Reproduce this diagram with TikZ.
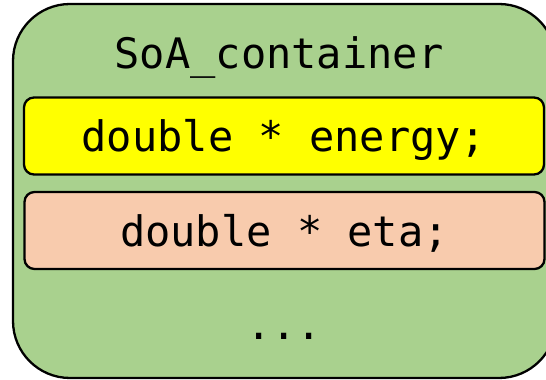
\documentclass[tikz,border=0pt]{standalone}
\usepackage{fontspec}
\setmonofont{DejaVu Sans Mono}
\definecolor{contgreen}{HTML}{A9D18E}
\definecolor{fieldyellow}{HTML}{FFFF00}
\definecolor{fieldorange}{HTML}{F8CBAD}
\tikzset{
  container/.style={draw=black, line width=2.3pt, fill=contgreen, rounded corners=57pt, inner sep=0pt},
  field/.style={draw=black, line width=2.3pt, rounded corners=10pt, inner sep=0pt,
    minimum width=520pt, minimum height=77pt, text height=40pt, text depth=8pt},
  codetext/.style={font=\ttfamily\fontsize{42}{50}\selectfont, text=black}
}
\begin{document}
\begin{tikzpicture}[x=1pt,y=1pt]
\useasboundingbox (0,0) rectangle (546,380);
\node[container, minimum width=543pt, minimum height=374pt] (cont) at (284.5,189) {};
\node[codetext, anchor=base] (title) at (279,311) {SoA\_container};
\node[field, codetext, fill=fieldyellow] (energy) at (284,244) {double * energy;};
\node[field, codetext, fill=fieldorange] (eta) at (284.5,149.5) {double * eta;};
\node[codetext, anchor=base] (dots) at (284,40) {...};
\end{tikzpicture}
\end{document}
